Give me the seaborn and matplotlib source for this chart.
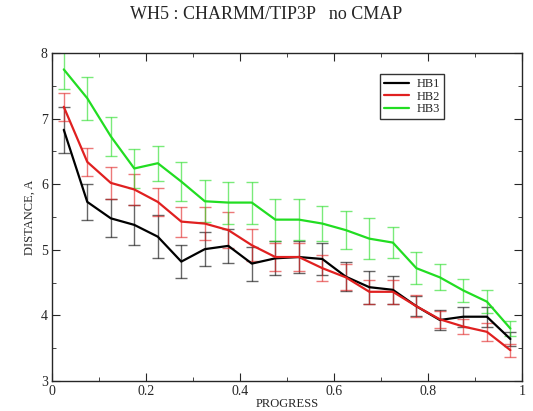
import matplotlib
matplotlib.use("Agg")
import matplotlib.pyplot as plt
from matplotlib.ticker import MultipleLocator, FormatStrFormatter
import numpy as np
import pandas as pd
import seaborn as sns

progress = [0.025, 0.075, 0.125, 0.175, 0.225, 0.275, 0.325, 0.375, 0.425, 0.475,
            0.525, 0.575, 0.625, 0.675, 0.725, 0.775, 0.825, 0.875, 0.925, 0.975]

hb1 = [6.83, 5.73, 5.48, 5.38, 5.20, 4.82, 5.01, 5.06, 4.79, 4.87,
       4.89, 4.86, 4.59, 4.43, 4.39, 4.14, 3.93, 3.98, 3.98, 3.64]
hb1_err = [0.35, 0.27, 0.29, 0.31, 0.33, 0.25, 0.26, 0.26, 0.26, 0.26,
           0.24, 0.25, 0.22, 0.25, 0.21, 0.15, 0.15, 0.15, 0.15, 0.10]

hb2 = [7.18, 6.34, 6.02, 5.92, 5.73, 5.43, 5.40, 5.30, 5.07, 4.89,
       4.89, 4.72, 4.58, 4.36, 4.36, 4.14, 3.94, 3.83, 3.75, 3.47]
hb2_err = [0.21, 0.21, 0.24, 0.24, 0.21, 0.23, 0.25, 0.27, 0.24, 0.22,
           0.21, 0.20, 0.20, 0.18, 0.18, 0.17, 0.13, 0.12, 0.14, 0.10]

hb3 = [7.75, 7.31, 6.73, 6.24, 6.32, 6.04, 5.74, 5.72, 5.72, 5.46,
       5.46, 5.40, 5.30, 5.17, 5.11, 4.72, 4.58, 4.38, 4.21, 3.80]
hb3_err = [0.30, 0.33, 0.30, 0.30, 0.27, 0.30, 0.32, 0.32, 0.32, 0.32,
           0.31, 0.27, 0.29, 0.31, 0.24, 0.24, 0.20, 0.17, 0.17, 0.12]

labels = ["HB1", "HB2", "HB3"]
colors = ["black", "#e02020", "#22dd22"]

sns.set_style("ticks")
plt.rcParams["font.family"] = ["Liberation Serif", "DejaVu Serif"]

d = pd.DataFrame({
    "PROGRESS": progress * 3,
    "DIST": hb1 + hb2 + hb3,
    "series": [l for l in labels for _ in progress],
})

f = plt.figure(figsize=(5.33, 4.11), dpi=100)
ax = f.add_axes([0.0976, 0.073, 0.882, 0.798])

errs = [hb1_err, hb2_err, hb3_err]
for vals, err, c in zip([hb1, hb2, hb3], errs, colors):
    ax.errorbar(progress, vals, yerr=err, fmt="none", ecolor=c, elinewidth=1.0,
                capsize=4, capthick=1.0, alpha=0.6)

sns.lineplot(data=d, x="PROGRESS", y="DIST", hue="series", palette=colors,
             linewidth=1.6, ax=ax)

ax.set(xlim=(0, 1), ylim=(3, 8))
ax.xaxis.set_major_locator(MultipleLocator(0.2))
ax.xaxis.set_minor_locator(MultipleLocator(0.1))
ax.yaxis.set_major_locator(MultipleLocator(1))
ax.yaxis.set_minor_locator(MultipleLocator(0.5))
ax.xaxis.set_major_formatter(lambda v, p: "%g" % round(v, 1))
ax.tick_params(which="both", direction="in", top=True, right=True, labelsize=10, pad=3)
ax.tick_params(which="major", length=6)
ax.tick_params(which="minor", length=3)
for s in ax.spines.values():
    s.set_linewidth(1.0)

ax.set_xlabel("PROGRESS", fontsize=9, labelpad=0)
ax.set_ylabel("DISTANCE, A", fontsize=9, labelpad=4)
f.suptitle("WH5 : CHARMM/TIP3P   no CMAP", fontsize=13, y=0.985)

leg = ax.legend(loc="upper left", bbox_to_anchor=(0.698, 0.935), fontsize=9,
                frameon=True, fancybox=False, edgecolor="black", handlelength=2.0,
                borderpad=0.3, labelspacing=0.05, borderaxespad=0, handletextpad=0.6)
leg.get_frame().set_linewidth(1.0)

plt.savefig("out.png", dpi=100)
